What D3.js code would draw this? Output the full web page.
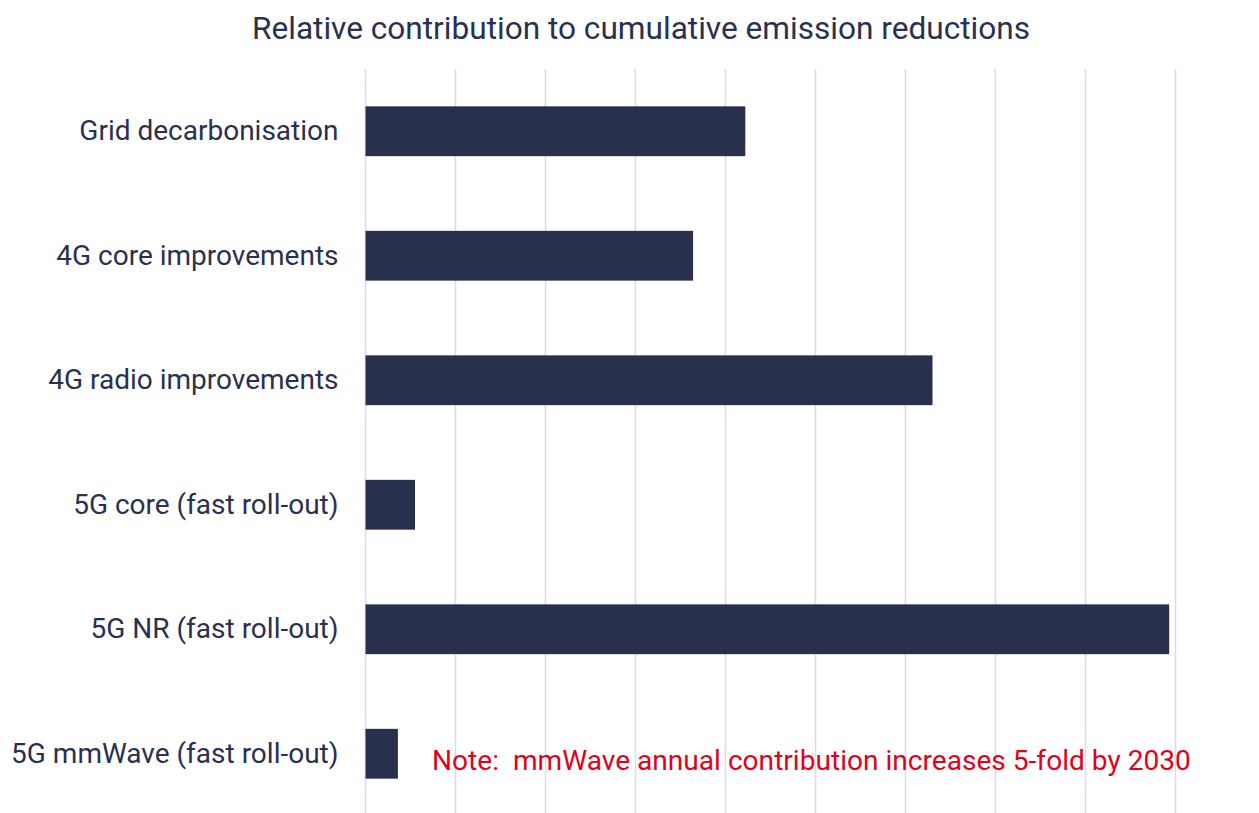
<!DOCTYPE html>
<html>
<head>
<meta charset="utf-8">
<script src="https://cdn.jsdelivr.net/npm/d3@7/dist/d3.min.js"></script>
<style>
  html, body { margin: 0; padding: 0; background: #ffffff; }
  svg { display: block; }
  text { font-family: Roboto, "Noto Sans", sans-serif; }
</style>
</head>
<body>
<svg id="chart" width="1259" height="813"></svg>
<script>
const categories = [
  "Grid decarbonisation",
  "4G core improvements",
  "4G radio improvements",
  "5G core (fast roll-out)",
  "5G NR (fast roll-out)",
  "5G mmWave (fast roll-out)"
];
const values = [4.22, 3.64, 6.30, 0.55, 8.93, 0.36];
const gridTicks = [0, 1, 2, 3, 4, 5, 6, 7, 8, 9];
const titleText = "Relative contribution to cumulative emission reductions";
const noteText = "Note:  mmWave annual contribution increases 5-fold by 2030";

const svg = d3.select("#chart");
const W = 1259, H = 813;
const margin = { left: 365.5, right: 83.5, top: 69, bottom: -3 };

const x = d3.scaleLinear().domain([0, 9]).range([margin.left, W - margin.right]);
const y = d3.scaleBand().domain(categories).range([margin.top, H - margin.bottom]).paddingInner(0.6).paddingOuter(0.3);

// gridlines
svg.append("g").selectAll("line").data(gridTicks).join("line")
  .attr("x1", d => x(d)).attr("x2", d => x(d))
  .attr("y1", margin.top).attr("y2", H)
  .attr("stroke", "#dadbe9").attr("stroke-width", 1.5);

// bars
svg.append("g").selectAll("rect").data(categories).join("rect")
  .attr("x", x(0))
  .attr("y", d => y(d))
  .attr("width", (d, i) => x(values[i]) - x(0))
  .attr("height", y.bandwidth())
  .attr("fill", "#29304d");

// category labels
const yAxis = d3.axisLeft(y).tickSize(0).tickPadding(27);
const ag = svg.append("g").attr("transform", `translate(${x(0)},0)`).call(yAxis);
ag.select(".domain").remove();
ag.selectAll("text")
  .attr("font-family", "Roboto, 'Noto Sans', sans-serif")
  .attr("font-size", 28)
  .attr("fill", "#2a3050");

// title
svg.append("text")
  .attr("x", 641).attr("y", 39)
  .attr("text-anchor", "middle")
  .attr("font-size", 31.6)
  .attr("fill", "#2a3050")
  .text(titleText);

// note
svg.append("text")
  .attr("x", 432).attr("y", 770)
  .attr("font-size", 28.1)
  .attr("fill", "#e3001b")
  .style("white-space", "pre")
  .text(noteText);
</script>
</body>
</html>
